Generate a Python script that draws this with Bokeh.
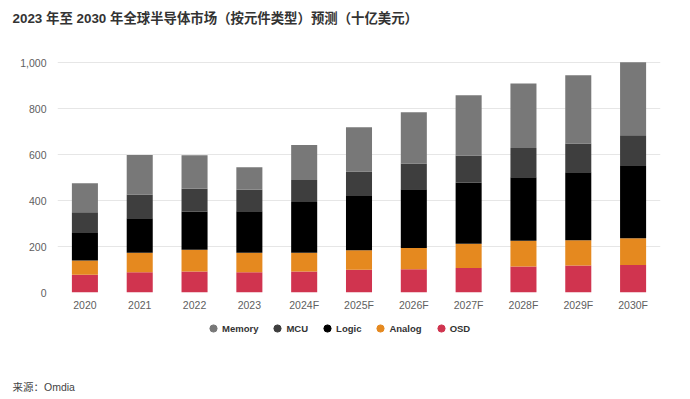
from bokeh.plotting import figure
from bokeh.layouts import column
from bokeh.models import (ColumnDataSource, FactorRange, Range1d, Legend, LegendItem, Title,
                          NumeralTickFormatter, SingleIntervalTicker)
from bokeh.embed import file_html
from bokeh.resources import INLINE

years = ["2020", "2021", "2022", "2023", "2024F", "2025F", "2026F", "2027F", "2028F", "2029F", "2030F"]
osd = [77, 88, 91, 88, 91, 99, 101, 107, 113, 117, 120]
analog = [62, 85, 95, 85, 82, 85, 93, 105, 112, 110, 116]
logic = [120, 150, 166, 181, 221, 236, 255, 266, 276, 296, 318]
mcu = [90, 103, 100, 93, 96, 106, 112, 118, 128, 125, 130]
memory = [126, 172, 145, 98, 152, 193, 223, 262, 280, 297, 318]

series = ["OSD", "Analog", "Logic", "MCU", "Memory"]
colors = ["#d0344f", "#e5891f", "#000000", "#3e3e3e", "#787878"]
legend_order = ["Memory", "MCU", "Logic", "Analog", "OSD"]

title_text = "2023 年至 2030 年全球半导体市场（按元件类型）预测（十亿美元）"
source_text = "来源：Omdia"

FONT = "Liberation Sans, Noto Sans CJK SC"
W = 690
LEFT, RIGHT = 57, 30


def blank_fig(h, top, bottom):
    f = figure(width=W, height=h, output_backend="svg", toolbar_location=None,
               x_range=Range1d(0, 1), y_range=Range1d(0, 1),
               x_axis_location=None, y_axis_location=None,
               min_border_left=LEFT, min_border_right=RIGHT,
               min_border_top=top, min_border_bottom=bottom)
    f.grid.visible = False
    f.outline_line_color = None
    f.background_fill_color = "white"
    f.border_fill_color = "white"
    return f


# ---- title strip ----
pt = blank_fig(40, 0, 0)
pt.add_layout(Title(text=title_text, align="left", offset=12 - LEFT, standoff=17,
                    text_font=FONT, text_font_size="13.4px", text_font_style="bold",
                    text_color="#333333"), "above")

# ---- main chart ----
src = ColumnDataSource(dict(year=years, OSD=osd, Analog=analog, Logic=logic, MCU=mcu, Memory=memory))

p = figure(width=W, height=276, output_backend="svg", toolbar_location=None,
           x_range=FactorRange(*years, range_padding=0), y_range=Range1d(0, 1040),
           min_border_left=LEFT, min_border_right=RIGHT, min_border_top=13, min_border_bottom=24)
p.outline_line_color = None
p.background_fill_color = "white"
p.border_fill_color = "white"

p.vbar_stack(series, x="year", width=0.475, color=colors, line_color=None, source=src)

p.xaxis.axis_line_color = None
p.xaxis.major_tick_line_color = None
p.xaxis.major_tick_out = 0
p.xaxis.major_label_standoff = 6
p.xaxis.major_label_text_font = FONT
p.xaxis.major_label_text_font_size = "10.5px"
p.xaxis.major_label_text_color = "#606060"

p.yaxis.axis_line_color = None
p.yaxis.major_tick_line_color = None
p.yaxis.minor_tick_line_color = None
p.yaxis.major_tick_out = 0
p.yaxis.minor_tick_out = 0
p.yaxis.major_label_standoff = 11
p.yaxis.ticker = SingleIntervalTicker(interval=200, num_minor_ticks=0)
p.yaxis.formatter = NumeralTickFormatter(format="0,0")
p.yaxis.major_label_text_font = FONT
p.yaxis.major_label_text_font_size = "10.5px"
p.yaxis.major_label_text_color = "#606060"

p.xgrid.grid_line_color = None
p.ygrid.grid_line_color = "#e6e6e6"
p.ygrid.grid_line_width = 1

# ---- legend + source strip ----
LH = 83
pl = blank_fig(LH, 0, 24)
nan_src = ColumnDataSource(dict(x=[float("nan")], y=[float("nan")]))
items = []
for name in legend_order:
    c = colors[series.index(name)]
    r = pl.scatter(x="x", y="y", source=nan_src, marker="circle", fill_color=c, line_color=c)
    items.append(LegendItem(label=name, renderers=[r]))

legend = Legend(items=items, orientation="horizontal", location=(204 - LEFT, LH - 24 - 22),
                glyph_width=18, glyph_height=20, label_standoff=0, spacing=10,
                padding=0, margin=0, border_line_color=None, background_fill_alpha=0,
                label_text_font=FONT, label_text_font_size="9.5px", label_text_font_style="bold",
                label_text_color="#333333")
pl.add_layout(legend, "center")

pl.add_layout(Title(text=source_text, align="left", offset=12 - LEFT, standoff=10,
                    vertical_align="top", text_font=FONT, text_font_size="10.5px",
                    text_font_style="normal", text_color="#444444"), "below")

layout = column(pt, p, pl, spacing=0)
open("out.html", "w").write(file_html(layout, INLINE))
